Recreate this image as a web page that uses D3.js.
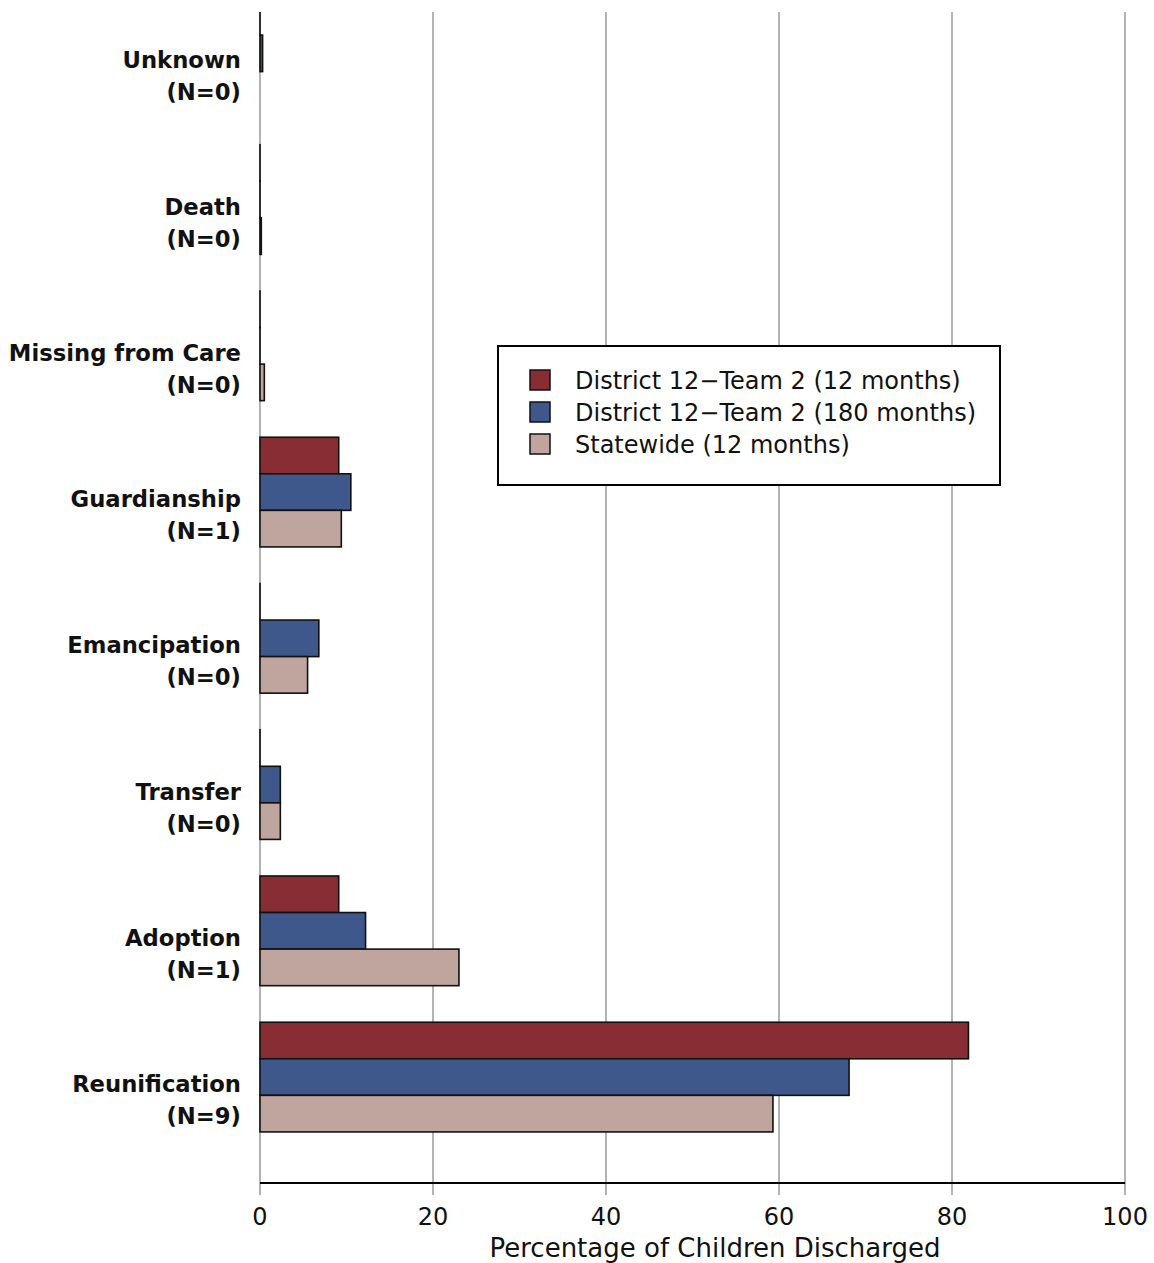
<!DOCTYPE html>
<html>
<head>
<meta charset="utf-8">
<script src="https://cdn.jsdelivr.net/npm/d3@7"></script>
<style>
  body { margin: 0; background: #fff; }
  text { font-family: "DejaVu Sans", sans-serif; }
</style>
</head>
<body>
<script>
// categories, top to bottom
const categories = ['Unknown', 'Death', 'Missing from Care', 'Guardianship',
  'Emancipation', 'Transfer', 'Adoption', 'Reunification'];
const counts = [0, 0, 0, 1, 0, 0, 1, 9];
const seriesNames = ['District 12\u2212Team 2 (12 months)',
  'District 12\u2212Team 2 (180 months)', 'Statewide (12 months)'];
// percentages; null = not drawn
const team12 = [0, 0, 0, 9.1, 0, 0, 9.1, 81.9];
const team180 = [0.3, 0, 0, 10.5, 6.8, 2.35, 12.2, 68.1];
const statewide = [null, 0.15, 0.5, 9.4, 5.5, 2.35, 23.0, 59.3];
const xTicks = [0, 20, 40, 60, 80, 100];

const W = 1154, H = 1263;
const plotLeft = 260, plotRight = 1125, plotTop = 12, axisY = 1183;
const colors = ['#892d34', '#3f588b', '#c0a49e'];
const series = [team12, team180, statewide];

const svg = d3.select('body').append('svg')
  .attr('width', W).attr('height', H)
  .attr('viewBox', `0 0 ${W} ${H}`);

const x = d3.scaleLinear().domain([0, 100]).range([plotLeft, plotRight]);

const y = d3.scaleBand().domain(categories)
  .range([-19.8, 1150.2]).paddingInner(0.25).paddingOuter(0.125);
const ySub = d3.scaleBand().domain(d3.range(series.length))
  .range([0, y.bandwidth()]);

// grid lines
svg.append('g').selectAll('line').data(xTicks).join('line')
  .attr('x1', d => x(d)).attr('x2', d => x(d))
  .attr('y1', plotTop).attr('y2', axisY + 12)
  .attr('stroke', '#9a9a9a').attr('stroke-width', 1.5);

svg.append('defs').append('clipPath').attr('id', 'plot')
  .append('rect').attr('x', 0).attr('y', plotTop).attr('width', W).attr('height', axisY - plotTop);

// bars (zero values still show their outline, as in the original)
const rows = [];
categories.forEach((c, i) => series.forEach((s, j) => {
  if (s[i] !== null) rows.push({ c, j, v: s[i] });
}));
svg.append('g').attr('clip-path', 'url(#plot)')
  .selectAll('rect').data(rows).join('rect')
  .attr('x', x(0))
  .attr('y', d => y(d.c) + ySub(d.j))
  .attr('width', d => Math.max(x(d.v) - x(0), 0.01))
  .attr('height', ySub.bandwidth())
  .attr('fill', d => colors[d.j])
  .attr('stroke', '#111').attr('stroke-width', 1.6);

// x axis
svg.append('line').attr('x1', x(0)).attr('x2', x(100))
  .attr('y1', axisY).attr('y2', axisY)
  .attr('stroke', '#000').attr('stroke-width', 2);
svg.append('g').selectAll('text').data(xTicks).join('text')
  .attr('x', d => x(d)).attr('y', 1225)
  .attr('text-anchor', 'middle').attr('font-size', 24)
  .attr('fill', '#111').text(d => d);
svg.append('text').attr('x', 715).attr('y', 1257)
  .attr('text-anchor', 'middle').attr('font-size', 26).attr('fill', '#111')
  .text('Percentage of Children Discharged');

// category labels
const lab = svg.append('g').selectAll('text').data(categories).join('text')
  .attr('text-anchor', 'end').attr('font-size', 22.7).attr('font-weight', 'bold')
  .attr('fill', '#111');
lab.append('tspan').attr('x', 241)
  .attr('y', d => y(d) + y.bandwidth() / 2 + 15).text(d => d);
lab.append('tspan').attr('x', 241)
  .attr('y', (d, i) => y(d) + y.bandwidth() / 2 + 47).text((d, i) => `(N=${counts[i]})`);

// legend
const lg = svg.append('g');
lg.append('rect').attr('x', 498).attr('y', 346).attr('width', 502).attr('height', 139)
  .attr('fill', '#fff').attr('stroke', '#000').attr('stroke-width', 2);
const item = lg.selectAll('g').data(seriesNames).join('g')
  .attr('transform', (d, i) => `translate(0,${380 + i * 32})`);
item.append('rect').attr('x', 530).attr('y', -10).attr('width', 20).attr('height', 20)
  .attr('fill', (d, i) => colors[i]).attr('stroke', '#111').attr('stroke-width', 1.5);
item.append('text').attr('x', 575).attr('y', 9)
  .attr('font-size', 24).attr('fill', '#111').text(d => d);
</script>
</body>
</html>
